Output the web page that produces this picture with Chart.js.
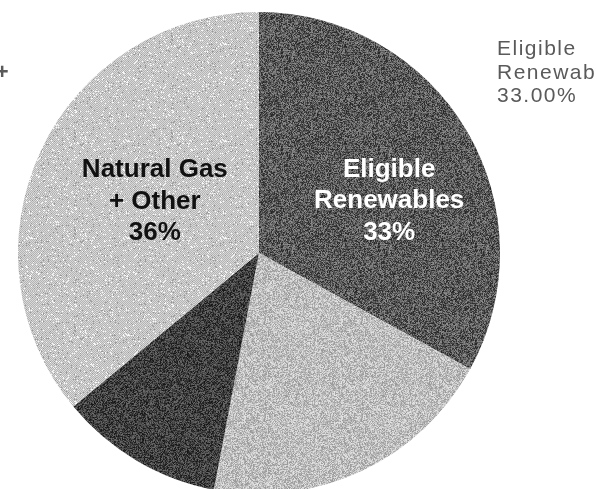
<!DOCTYPE html>
<html>
<head>
<meta charset="utf-8">
<script src="https://cdn.jsdelivr.net/npm/chart.js@4.4.1/dist/chart.umd.min.js"></script>
<style>
    html, body { margin: 0; padding: 0; background: #fff; overflow: hidden; }
    #contenedor { width: 597px; height: 506px; position: relative; }
</style>
</head>
<body>
<div id="contenedor"><canvas id="grafico"></canvas></div>
<script>
// Mezcla de generación (porcentaje)
const categorias = ['Eligible Renewables', 'Large Hydro', 'Nuclear', 'Natural Gas + Other'];
const porcentajes = [33, 20, 11, 36];
// Texto dentro de cada sector (null = sin texto)
const textosSector = [['Eligible', 'Renewables'], null, null, ['Natural Gas', '+ Other']];
// Etiquetas exteriores
const textoExteriorDerecha = ['Eligible', 'Renewables'];
const textoExteriorIzquierda = 'Natural Gas +';

const FUENTE = '"Liberation Sans", Arial, sans-serif';

// Ruido determinista para las tramas de relleno
function ruido(x, y, semilla) {
    let h = Math.imul(x, 374761393) + Math.imul(y, 668265263) + Math.imul(semilla, 1442695041);
    h = Math.imul(h ^ (h >>> 13), 1274126177);
    h = h ^ (h >>> 16);
    return (h >>> 0) / 4294967295;
}

function crearTrama(base, amplitud, semilla, damero) {
    const lado = 97;
    const c = document.createElement('canvas');
    c.width = lado;
    c.height = lado;
    const g = c.getContext('2d');
    const img = g.createImageData(lado, lado);
    for (let y = 0; y < lado; y++) {
        for (let x = 0; x < lado; x++) {
            let v;
            if (damero) {
                v = base + (((x + y) & 1) ? amplitud : -amplitud);
                let r = ruido(x, y, semilla);
                if (r > 0.93) v = 250;
                else if (r < 0.05) v = base - 45;
            } else {
                v = base + amplitud * (ruido(x, y, semilla) * 2 - 1);
            }
            v = Math.max(0, Math.min(255, Math.round(v)));
            let i = (y * lado + x) * 4;
            img.data[i] = v;
            img.data[i + 1] = v;
            img.data[i + 2] = v;
            img.data[i + 3] = 255;
        }
    }
    g.putImageData(img, 0, 0);
    return g.createPattern(c, 'repeat');
}

const ctxBase = document.getElementById('grafico').getContext('2d');
const rellenos = [
    crearTrama(90, 55, 1, false),
    crearTrama(190, 40, 2, false),
    crearTrama(64, 45, 3, false),
    crearTrama(198, 18, 4, true)
];

// Colocación del texto interior: fracción del radio y giro respecto al centro del sector (grados)
const colocacion = [{radio: 0.585, giro: 8}, null, null, {radio: 0.486, giro: 2}];

const etiquetas = {
    id: 'etiquetas',
    afterDatasetsDraw(chart) {
        const ctx = chart.ctx;
        const arcos = chart.getDatasetMeta(0).data;
        ctx.save();
        ctx.textAlign = 'center';
        ctx.textBaseline = 'alphabetic';
        ctx.font = 'bold 26px ' + FUENTE;
        for (let i = 0; i < arcos.length; i++) {
            if (!textosSector[i]) continue;
            const arco = arcos[i];
            const medio = (arco.startAngle + arco.endAngle) / 2 + colocacion[i].giro * Math.PI / 180;
            const r = arco.outerRadius * colocacion[i].radio;
            const cx = arco.x + Math.cos(medio) * r;
            const cy = arco.y + Math.sin(medio) * r;
            const lineas = textosSector[i].concat([porcentajes[i] + '%']);
            ctx.fillStyle = i === 0 ? '#ffffff' : '#111111';
            for (let j = 0; j < lineas.length; j++) {
                ctx.fillText(lineas[j], cx, cy + (j - 1) * 31.6 + 9.3);
            }
        }

        // Etiquetas exteriores, cortadas por el borde
        ctx.font = '21px ' + FUENTE;
        ctx.fillStyle = '#5a5a5a';
        ctx.letterSpacing = '1.5px';
        ctx.textAlign = 'left';
        const lineasDer = textoExteriorDerecha.concat([porcentajes[0].toFixed(2) + '%']);
        for (let j = 0; j < lineasDer.length; j++) {
            ctx.fillText(lineasDer[j], 497, 55 + j * 23.5);
        }
        ctx.textAlign = 'right';
        ctx.font = 'bold 22px ' + FUENTE;
        ctx.fillText(textoExteriorIzquierda, 10, 79);
        ctx.restore();
    }
};

new Chart(ctxBase, {
    type: 'pie',
    data: {
        labels: categorias,
        datasets: [{
            data: porcentajes,
            backgroundColor: rellenos,
            borderWidth: 0
        }]
    },
    options: {
        responsive: true,
        maintainAspectRatio: false,
        animation: false,
        layout: {
            padding: {left: 18, right: 97, top: 12, bottom: 12}
        },
        plugins: {
            legend: {display: false},
            tooltip: {enabled: false}
        }
    },
    plugins: [etiquetas]
});
</script>
</body>
</html>
